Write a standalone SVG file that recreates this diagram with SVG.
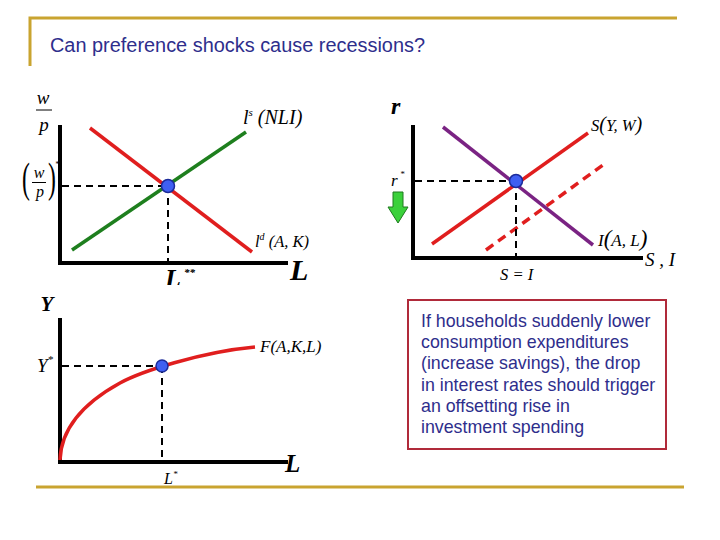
<svg xmlns="http://www.w3.org/2000/svg" width="720" height="540" viewBox="0 0 720 540">
<style>
.gold{stroke:#C9A430;stroke-width:3;fill:none}
.axis{stroke:#000;stroke-width:4;fill:none}
.dash{stroke:#000;stroke-width:2;stroke-dasharray:7,5;fill:none}
.red{stroke:#E01E1E;stroke-width:3.5;fill:none}
.green{stroke:#1E7F1E;stroke-width:3.5;fill:none}
.purple{stroke:#7A2383;stroke-width:3.5;fill:none}
.pt{fill:#3F5FF2;stroke:#1B2B9A;stroke-width:1.5}
.m{font-family:"Liberation Serif",serif;font-style:italic;fill:#000}
.p{font-family:"Liberation Serif",serif;fill:#000}
.mb{font-family:"Liberation Serif",serif;font-style:italic;font-weight:bold;fill:#000}
.title{font-family:"Liberation Sans",Arial,sans-serif;font-size:19.5px;fill:#2E2E8C}
.note{font-family:"Liberation Sans",Arial,sans-serif;font-size:17.8px;fill:#2E2E8C}
</style>
<defs>
<clipPath id="clipL"><rect x="0" y="0" width="720" height="285"/></clipPath>
<clipPath id="clipR"><rect x="380" y="103" width="40" height="20"/></clipPath>
</defs>
<rect width="720" height="540" fill="#fff"/>
<g id="frame">
<polyline class="gold" points="30,66 30,18 677,18"/>
<line class="gold" x1="36" y1="487" x2="684" y2="487"/>
<text class="title" x="50" y="52" textLength="375" lengthAdjust="spacingAndGlyphs">Can preference shocks cause recessions?</text>
</g>

<g id="labor-market">
<line class="axis" x1="60" y1="125" x2="60" y2="265"/>
<line class="axis" x1="58" y1="263" x2="288" y2="263"/>
<text class="m" x="43" y="104" font-size="19" text-anchor="middle">w</text>
<line x1="36" y1="110" x2="52" y2="110" stroke="#000" stroke-width="1"/>
<text class="m" x="44" y="131" font-size="19" text-anchor="middle">p</text>
<text class="p" transform="translate(22,192) scale(0.55,1)" font-size="43">(</text>
<text class="p" transform="translate(48,192) scale(0.55,1)" font-size="43">)</text>
<text class="m" x="39" y="178" font-size="16" text-anchor="middle">w</text>
<line x1="32" y1="182.5" x2="46" y2="182.5" stroke="#000" stroke-width="1"/>
<text class="m" x="40" y="197" font-size="16" text-anchor="middle">p</text>
<text class="m" x="55" y="167" font-size="8">*</text>
<line class="red" x1="90" y1="128" x2="252" y2="252"/>
<line class="green" x1="72" y1="250" x2="246" y2="132"/>
<line class="dash" x1="62" y1="186" x2="168" y2="186"/>
<line class="dash" x1="168" y1="186" x2="168" y2="261"/>
<circle class="pt" cx="168" cy="186" r="6.5"/>
<text class="m" x="243" y="124" font-size="20">l<tspan font-size="11" dy="-8">s</tspan><tspan dy="8"> (NLI)</tspan></text>
<text class="m" x="255" y="247" font-size="16.5">l<tspan font-size="10" dy="-7">d</tspan><tspan dy="7"> (A, K)</tspan></text>
<text class="mb" x="290" y="280" font-size="30">L</text>
<g clip-path="url(#clipL)">
<text class="mb" x="165" y="287" font-size="26">L</text>
<text class="mb" x="184" y="276" font-size="11">**</text>
</g>
</g>

<g id="loanable-funds">
<line class="axis" x1="413" y1="125" x2="413" y2="260"/>
<line class="axis" x1="411" y1="258" x2="643" y2="258"/>
<g clip-path="url(#clipR)">
<text class="mb" x="391" y="114" font-size="24">r</text>
</g>
<text class="m" x="391" y="186" font-size="17">r</text>
<text class="m" x="400" y="177" font-size="9">*</text>
<polygon points="393,192 403,192 403,207 408,207 398,223 388,207 393,207" fill="#3BD13B" stroke="#1E7A1E" stroke-width="1"/>
<line class="purple" x1="443" y1="127" x2="593" y2="245"/>
<line class="red" x1="432" y1="244" x2="588" y2="133"/>
<line class="red" x1="486" y1="250" x2="607" y2="162" stroke-dasharray="9,6"/>
<line class="dash" x1="415" y1="181" x2="516" y2="181"/>
<line class="dash" x1="516" y1="181" x2="516" y2="256"/>
<circle class="pt" cx="516" cy="181" r="6.5"/>
<text class="m" x="591" y="131" font-size="16.5">S<tspan font-size="20">(</tspan>Y, W<tspan font-size="20">)</tspan></text>
<text class="m" x="598" y="246" font-size="17">I<tspan font-size="23">(</tspan>A, L<tspan font-size="23">)</tspan></text>
<text class="m" x="645" y="266" font-size="19">S , I</text>
<text class="m" x="500" y="280" font-size="16.5">S = I</text>
</g>

<g id="production">
<line class="axis" x1="60" y1="318" x2="60" y2="464"/>
<line class="axis" x1="58" y1="462" x2="288" y2="462"/>
<path class="red" d="M60,460 C61,430 80,405 120,383 C140,372 200,352 255,347"/>
<line class="dash" x1="62" y1="366" x2="162" y2="366"/>
<line class="dash" x1="162" y1="366" x2="162" y2="460"/>
<circle class="pt" cx="162" cy="366" r="6"/>
<text class="mb" x="47" y="311" font-size="21" text-anchor="middle">Y</text>
<text class="m" x="37" y="372" font-size="19">Y<tspan font-size="11" dy="-9">*</tspan></text>
<text class="m" x="260" y="352" font-size="17">F(A,K,L)</text>
<text class="mb" x="285" y="472" font-size="25">L</text>
<text class="m" x="164" y="484" font-size="16">L<tspan font-size="9" dy="-7">*</tspan></text>
</g>

<g id="note">
<rect x="408" y="300" width="258" height="149" fill="#fff" stroke="#B02A3A" stroke-width="2"/>
<text class="note" x="421" y="327">If households suddenly lower</text>
<text class="note" x="421" y="348">consumption expenditures</text>
<text class="note" x="421" y="369">(increase savings), the drop</text>
<text class="note" x="421" y="391">in interest rates should trigger</text>
<text class="note" x="421" y="412">an offsetting rise in</text>
<text class="note" x="421" y="433">investment spending</text>
</g>
</svg>
